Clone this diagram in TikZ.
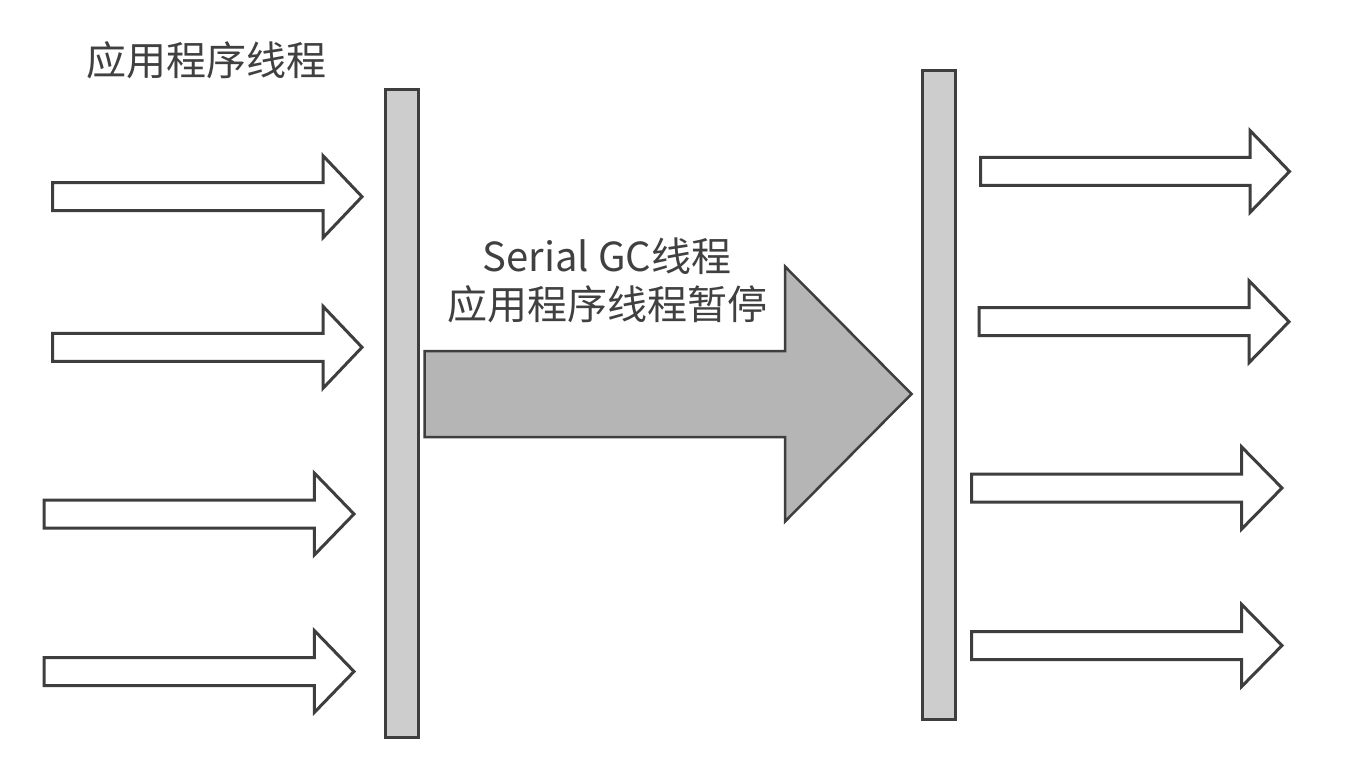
\documentclass[tikz,border=0pt]{standalone}
\usepackage{fontspec}
\setmainfont{Noto Sans CJK SC}
\definecolor{linegray}{HTML}{3E3E3E}
\definecolor{barfill}{HTML}{CDCDCD}
\definecolor{bigfill}{HTML}{B5B5B5}
\definecolor{textgray}{HTML}{404040}
\newcommand{\gcarrow}[7]{%
  \draw[#1] (#2,#5-#6) -- (#3,#5-#6) -- (#3,#5-#7) -- (#4,#5) -- (#3,#5+#7) -- (#3,#5+#6) -- (#2,#5+#6) -- cycle;}
\begin{document}
\begin{tikzpicture}[x=1pt,y=-1pt,
  thinarrow/.style={draw=linegray,line width=3pt,fill=white,line join=miter},
  bigarrow/.style={draw=linegray,line width=2.5pt,fill=bigfill,line join=miter},
  barbox/.style={draw=linegray,line width=3pt,fill=barfill,inner sep=0pt,outer sep=0pt},
  label/.style={text=textgray,font=\fontsize{40}{48}\selectfont,align=center,inner sep=0pt}]
\useasboundingbox[fill=white] (0,0) rectangle (1354,770);
% bars
\node[barbox,minimum width=33pt,minimum height=648pt] (lbar) at (401.75,413.5) {};
\node[barbox,minimum width=33pt,minimum height=649pt] (rbar) at (938.5,395) {};
% left arrows
\gcarrow{thinarrow}{52.5}{323}{362}{196.7}{14}{41}
\gcarrow{thinarrow}{52.5}{323}{362}{347.3}{14}{41}
\gcarrow{thinarrow}{44}{314.3}{354}{514}{14}{41}
\gcarrow{thinarrow}{44}{314.3}{354}{671.5}{14}{41}
% right arrows
\gcarrow{thinarrow}{980.5}{1250}{1289.5}{171.5}{14}{41}
\gcarrow{thinarrow}{979}{1249}{1289}{321.7}{14}{41}
\gcarrow{thinarrow}{971.5}{1241.7}{1282}{488}{14}{41}
\gcarrow{thinarrow}{971.5}{1241.7}{1282}{645.5}{14}{41}
% big arrow
\gcarrow{bigarrow}{424.5}{785}{911.5}{394}{43}{127.5}
% labels
\node[label] (top) at (206.5,60) {应用程序线程};
\node[label] (gc) at (607,280) {Serial GC线程\\应用程序线程暂停};
\end{tikzpicture}
\end{document}
